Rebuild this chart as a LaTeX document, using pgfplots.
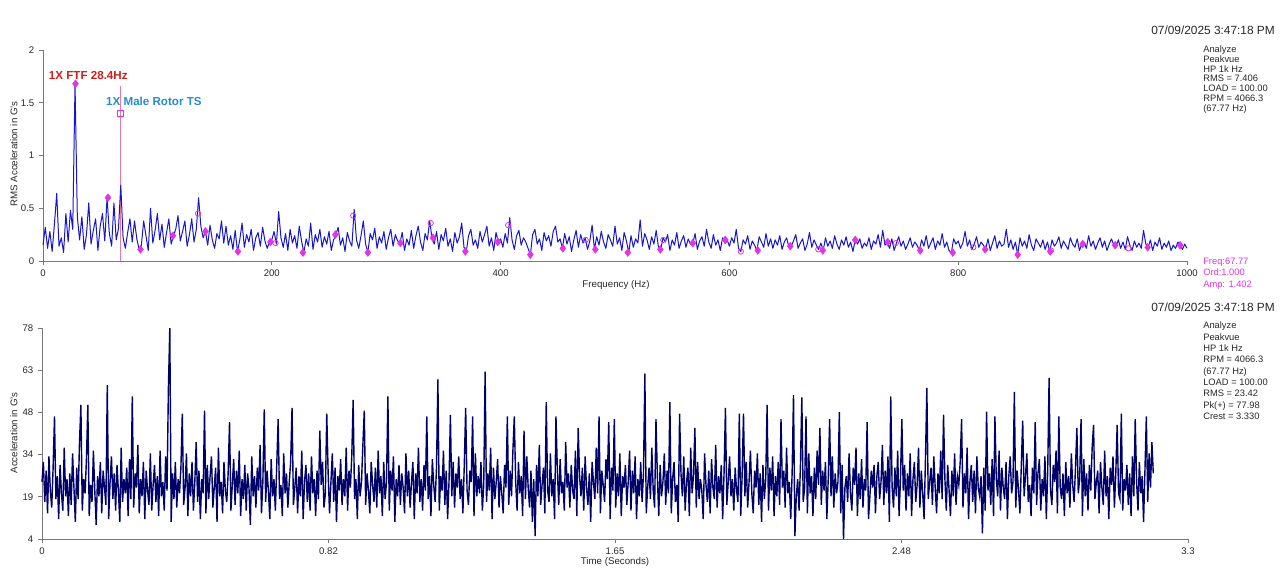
\documentclass[border=0pt]{standalone}
\usepackage{fontspec}
\setmainfont{Liberation Sans}
\usepackage{pgfplots}
\pgfplotsset{compat=1.18}
\definecolor{specblue}{RGB}{22,22,205}
\definecolor{wavenavy}{RGB}{0,0,105}
\definecolor{mag}{RGB}{228,50,228}
\definecolor{cursorpink}{RGB}{240,120,160}
\definecolor{lblred}{RGB}{205,30,30}
\definecolor{lblblue}{RGB}{40,140,210}
\definecolor{axgray}{RGB}{120,120,120}
\definecolor{txt}{RGB}{40,40,40}
\begin{document}
\begin{tikzpicture}
\path[use as bounding box] (0pt,0pt) rectangle (960pt,431.25pt);
\pgfplotsset{myax/.style={scale only axis, axis x line=bottom, axis y line=left,
  axis line style={-, axgray, line width=0.6pt}, tick style={axgray, line width=0.6pt},
  tick align=outside, major tick length=3pt,
  ticklabel style={font=\fontsize{7.2}{8}\selectfont, text=txt},
  /pgf/number format/assume math mode=true, clip=false, anchor=south west}}
% ---------------- spectrum ----------------
\begin{axis}[myax, at={(32.25pt,235.5pt)}, width=858pt, height=158.25pt,
  xmin=0, xmax=1000, ymin=0, ymax=2,
  xtick={0,200,400,600,800,1000}, xticklabels={0,200,400,600,800,1000},
  ytick={0,0.5,1,1.5,2}, yticklabels={0,0.5,1,1.5,2}]
\addplot[cursorpink, line width=0.8pt] coordinates {(67.77,0) (67.77,1.66)};
\addplot[specblue, line width=0.75pt, line join=round] table[x expr=\coordindex*2, y index=0, header=false, row sep=\\] {
0.15\\0.32\\0.12\\0.28\\0.09\\0.35\\0.64\\0.14\\0.22\\0.08\\0.45\\0.18\\0.48\\0.3\\1.68\\0.42\\0.2\\0.42\\0.11\\0.25\\
0.55\\0.16\\0.29\\0.4\\0.1\\0.33\\0.45\\0.19\\0.6\\0.26\\0.14\\0.55\\0.2\\0.31\\0.72\\0.22\\0.12\\0.27\\0.4\\0.18\\
0.38\\0.21\\0.11\\0.15\\0.38\\0.24\\0.1\\0.5\\0.17\\0.29\\0.45\\0.2\\0.35\\0.13\\0.27\\0.4\\0.16\\0.24\\0.3\\0.43\\
0.19\\0.28\\0.38\\0.14\\0.25\\0.4\\0.18\\0.3\\0.6\\0.33\\0.22\\0.28\\0.15\\0.34\\0.2\\0.12\\0.26\\0.21\\0.38\\0.17\\
0.33\\0.15\\0.24\\0.11\\0.29\\0.09\\0.2\\0.36\\0.13\\0.25\\0.18\\0.3\\0.1\\0.22\\0.27\\0.14\\0.32\\0.19\\0.12\\0.18\\
0.2\\0.28\\0.16\\0.47\\0.22\\0.13\\0.26\\0.1\\0.3\\0.17\\0.24\\0.12\\0.33\\0.19\\0.08\\0.21\\0.14\\0.36\\0.11\\0.25\\
0.18\\0.3\\0.13\\0.23\\0.16\\0.28\\0.1\\0.2\\0.25\\0.32\\0.15\\0.22\\0.09\\0.27\\0.19\\0.14\\0.49\\0.2\\0.12\\0.24\\
0.38\\0.16\\0.08\\0.26\\0.2\\0.31\\0.12\\0.23\\0.17\\0.28\\0.11\\0.22\\0.3\\0.14\\0.25\\0.19\\0.17\\0.27\\0.1\\0.21\\
0.15\\0.29\\0.12\\0.24\\0.33\\0.18\\0.1\\0.26\\0.2\\0.38\\0.22\\0.16\\0.28\\0.11\\0.25\\0.19\\0.31\\0.14\\0.21\\0.09\\
0.27\\0.17\\0.23\\0.36\\0.13\\0.09\\0.24\\0.3\\0.15\\0.2\\0.12\\0.28\\0.18\\0.25\\0.33\\0.14\\0.22\\0.1\\0.27\\0.18\\
0.21\\0.13\\0.26\\0.17\\0.41\\0.2\\0.11\\0.24\\0.29\\0.15\\0.22\\0.18\\0.12\\0.06\\0.25\\0.3\\0.16\\0.21\\0.1\\0.27\\
0.19\\0.24\\0.14\\0.28\\0.33\\0.18\\0.21\\0.12\\0.26\\0.16\\0.23\\0.09\\0.2\\0.29\\0.13\\0.25\\0.17\\0.22\\0.11\\0.19\\
0.34\\0.11\\0.23\\0.15\\0.28\\0.18\\0.12\\0.25\\0.2\\0.14\\0.33\\0.16\\0.22\\0.1\\0.27\\0.19\\0.08\\0.24\\0.13\\0.21\\
0.17\\0.39\\0.14\\0.26\\0.2\\0.11\\0.23\\0.16\\0.29\\0.13\\0.11\\0.22\\0.18\\0.25\\0.1\\0.2\\0.15\\0.27\\0.12\\0.19\\
0.24\\0.13\\0.21\\0.16\\0.17\\0.26\\0.11\\0.19\\0.23\\0.14\\0.3\\0.18\\0.12\\0.25\\0.15\\0.2\\0.1\\0.22\\0.17\\0.2\\
0.14\\0.22\\0.17\\0.3\\0.12\\0.09\\0.2\\0.16\\0.24\\0.11\\0.19\\0.15\\0.1\\0.23\\0.18\\0.13\\0.26\\0.14\\0.21\\0.12\\
0.2\\0.15\\0.24\\0.11\\0.18\\0.22\\0.13\\0.14\\0.19\\0.25\\0.12\\0.17\\0.21\\0.1\\0.16\\0.27\\0.13\\0.2\\0.15\\0.11\\
0.17\\0.1\\0.22\\0.14\\0.19\\0.12\\0.24\\0.16\\0.11\\0.2\\0.15\\0.23\\0.13\\0.18\\0.09\\0.2\\0.16\\0.21\\0.12\\0.17\\
0.14\\0.22\\0.11\\0.19\\0.16\\0.25\\0.13\\0.29\\0.15\\0.18\\0.12\\0.21\\0.1\\0.17\\0.23\\0.14\\0.19\\0.11\\0.16\\0.22\\
0.13\\0.18\\0.15\\0.1\\0.2\\0.14\\0.24\\0.12\\0.17\\0.22\\0.11\\0.19\\0.15\\0.26\\0.13\\0.18\\0.1\\0.08\\0.21\\0.16\\
0.19\\0.12\\0.17\\0.28\\0.14\\0.2\\0.11\\0.16\\0.23\\0.13\\0.18\\0.15\\0.11\\0.21\\0.1\\0.17\\0.24\\0.12\\0.19\\0.14\\
0.16\\0.3\\0.13\\0.2\\0.11\\0.18\\0.06\\0.22\\0.14\\0.19\\0.12\\0.25\\0.15\\0.1\\0.21\\0.17\\0.13\\0.2\\0.11\\0.18\\
0.09\\0.2\\0.14\\0.17\\0.23\\0.12\\0.19\\0.15\\0.11\\0.22\\0.16\\0.13\\0.21\\0.1\\0.16\\0.18\\0.12\\0.24\\0.14\\0.19\\
0.11\\0.17\\0.22\\0.13\\0.19\\0.1\\0.16\\0.21\\0.15\\0.14\\0.2\\0.12\\0.18\\0.11\\0.23\\0.15\\0.1\\0.19\\0.13\\0.17\\
0.12\\0.29\\0.16\\0.13\\0.2\\0.1\\0.18\\0.14\\0.22\\0.11\\0.17\\0.13\\0.19\\0.1\\0.15\\0.12\\0.18\\0.15\\0.11\\0.16\\
0.12\\
};
\addplot[only marks, mark=diamond*, mark size=2.9pt, mark options={fill=mag, draw=mag}] coordinates {
(28.4,1.68) (56.8,0.6) (85.2,0.11) (113.6,0.24) (142,0.28) (170.4,0.09) (198.8,0.18)
(227.2,0.08) (255.6,0.25) (284,0.08) (312.4,0.17) (340.8,0.22) (369.2,0.09) (397.6,0.18)
(426,0.06) (454.4,0.12) (482.8,0.11) (511.2,0.08) (539.6,0.11) (568,0.17) (596.4,0.2)
(624.8,0.1) (653.2,0.14) (681.6,0.1) (710,0.2) (738.4,0.18) (766.8,0.1) (795.2,0.08)
(823.6,0.11) (852,0.06) (880.4,0.09) (908.8,0.16) (937.2,0.15) (965.6,0.13) (994,0.15)};
\addplot[only marks, mark=o, mark size=2pt, mark options={draw=mag, line width=0.6pt}] coordinates {
(135.5,0.45) (203.3,0.17) (271.1,0.43) (338.9,0.36) (406.6,0.34) (474.4,0.2) (542.2,0.2)
(610,0.09) (677.7,0.11) (745.5,0.17) (813.2,0.13) (881,0.1) (948.8,0.12)};
\addplot[only marks, mark=square, mark size=2.3pt, mark options={draw=mag, line width=0.7pt}] coordinates {(67.77,1.402)};
\node[anchor=west, inner sep=0pt, text=lblred, font=\fontsize{8.7}{10}\selectfont\bfseries] at (axis cs:5,1.76) {1X FTF 28.4Hz};
\node[anchor=west, inner sep=0pt, text=lblblue, font=\fontsize{8.7}{10}\selectfont\bfseries] at (axis cs:55,1.51) {1X Male Rotor TS};
\end{axis}
% ---------------- waveform ----------------
\begin{axis}[myax, at={(31.5pt,27pt)}, width=859.5pt, height=158.25pt,
  xmin=0, xmax=3.3, ymin=4, ymax=78,
  xtick={0,0.825,1.65,2.475,3.3}, xticklabels={0,0.82,1.65,2.48,3.3},
  ytick={4,18.8,33.6,48.4,63.2,78}, yticklabels={4,19,34,48,63,78}]
\addplot[wavenavy, line width=1.05pt] table[x expr=\coordindex*0.004, y index=0, header=false, row sep=\\] {
24\\31\\17\\28\\13\\33\\21\\15\\29\\47\\18\\26\\11\\30\\20\\14\\36\\19\\25\\12\\
27\\16\\34\\22\\10\\29\\18\\38\\51\\14\\25\\20\\32\\51\\12\\23\\17\\35\\21\\9\\
26\\19\\31\\13\\28\\22\\16\\58\\11\\24\\33\\18\\27\\14\\30\\21\\10\\36\\17\\25\\
20\\29\\12\\32\\18\\54\\15\\27\\22\\37\\13\\25\\19\\31\\11\\28\\21\\16\\34\\14\\
23\\30\\17\\26\\12\\35\\19\\24\\14\\33\\21\\57\\78\\10\\27\\18\\31\\15\\25\\20\\
29\\48\\16\\22\\34\\12\\27\\19\\31\\14\\24\\38\\17\\28\\11\\25\\20\\49\\13\\30\\
18\\26\\33\\15\\22\\29\\10\\36\\19\\24\\13\\31\\21\\17\\27\\45\\14\\23\\32\\16\\
28\\20\\35\\12\\25\\18\\30\\14\\27\\22\\9\\33\\19\\26\\15\\29\\21\\37\\13\\24\\
49.5\\17\\28\\21\\11\\32\\19\\25\\14\\30\\46\\18\\23\\12\\34\\20\\27\\15\\24\\31\\
50\\16\\22\\29\\13\\26\\19\\35\\11\\24\\30\\17\\27\\14\\33\\20\\25\\12\\28\\18\\
42\\23\\31\\15\\20\\48\\27\\13\\24\\34\\17\\29\\10\\26\\21\\32\\16\\25\\19\\36\\
14\\28\\22\\33\\52.8\\18\\25\\11\\30\\19\\24\\37\\49\\16\\27\\21\\13\\31\\23\\17\\
29\\15\\35\\20\\26\\12\\31\\18\\24\\54\\14\\28\\21\\33\\10\\25\\19\\30\\16\\27\\
22\\13\\34\\19\\28\\15\\24\\31\\11\\27\\20\\36\\17\\25\\14\\30\\21\\47\\18\\26\\
12\\32\\23\\17\\29\\60\\14\\26\\21\\35\\16\\28\\11\\24\\47.5\\19\\31\\15\\27\\22\\
33\\18\\25\\13\\30\\50\\21\\16\\28\\24\\47\\12\\34\\19\\26\\20\\31\\14\\23\\62.7\\
17\\27\\21\\36\\11\\29\\18\\24\\32\\15\\26\\20\\13\\30\\22\\47\\16\\28\\19\\35\\
47\\24\\14\\31\\20\\26\\12\\42\\18\\33\\22\\15\\28\\10\\25\\5\\30\\19\\37\\16\\
23\\29\\13\\52\\21\\17\\34\\19\\25\\11\\47\\28\\16\\32\\20\\24\\14\\38\\22\\27\\
15\\30\\21\\18\\35\\12\\43\\26\\19\\29\\14\\33\\22\\16\\27\\10\\31\\24\\18\\36\\
20\\47\\13\\28\\23\\17\\32\\25\\45\\11\\29\\21\\46\\15\\27\\19\\34\\12\\26\\22\\
30\\16\\24\\35\\14\\28\\20\\33\\11\\25\\19\\31\\17\\27\\62\\13\\22\\29\\18\\36\\
21\\15\\46\\26\\12\\30\\19\\24\\34\\16\\28\\20\\52\\13\\25\\31\\17\\23\\10\\48\\
27\\19\\33\\14\\24\\29\\12\\36\\20\\26\\43\\15\\31\\18\\25\\21\\11\\34\\23\\17\\
28\\13\\32\\22\\18\\37\\15\\26\\20\\30\\11\\27\\50\\16\\24\\33\\19\\25\\14\\29\\
21\\17\\48\\12\\26\\48\\19\\31\\15\\24\\35\\20\\13\\28\\22\\34\\16\\27\\10\\30\\
18\\25\\51\\14\\29\\21\\33\\12\\26\\19\\31\\16\\46\\22\\28\\15\\36\\20\\24\\11\\
27\\54.5\\5\\19\\25\\14\\30\\53.7\\17\\22\\47\\13\\34\\20\\26\\12\\29\\18\\35\\23\\
43\\16\\28\\21\\31\\11\\25\\46\\19\\33\\15\\27\\20\\24\\48.5\\13\\30\\4\\22\\26\\
17\\34\\20\\14\\29\\23\\36\\12\\27\\18\\32\\15\\25\\21\\45\\11\\19\\28\\22\\30\\
13\\26\\31\\18\\24\\37\\16\\28\\20\\33\\10\\54\\22\\15\\29\\19\\35\\12\\25\\46\\
21\\30\\14\\27\\19\\34\\12\\25\\31\\17\\23\\36\\15\\28\\20\\11\\32\\57\\18\\24\\
29\\16\\33\\22\\13\\27\\20\\35\\18\\47.6\\25\\14\\30\\21\\12\\28\\19\\34\\16\\26\\
23\\31\\46\\15\\27\\20\\36\\11\\24\\30\\17\\28\\13\\33\\22\\19\\26\\6\\29\\14\\
48.7\\21\\27\\16\\32\\12\\47\\25\\19\\35\\14\\29\\22\\18\\31\\11\\26\\33\\20\\24\\
55.6\\15\\28\\21\\13\\30\\45.5\\19\\26\\34\\17\\23\\12\\29\\20\\45\\16\\27\\32\\14\\
25\\19\\33\\11\\28\\60.5\\21\\16\\30\\24\\35\\13\\47\\22\\18\\27\\12\\31\\20\\26\\
15\\34\\23\\17\\29\\43\\20\\25\\46\\12\\32\\19\\27\\14\\30\\21\\36\\44\\18\\24\\
28\\13\\31\\22\\16\\35\\19\\26\\11\\29\\23\\33\\15\\27\\44\\20\\18\\48\\14\\25\\
21\\30\\16\\27\\12\\33\\19\\46\\24\\14\\31\\20\\26\\10\\28\\47\\17\\34\\22\\38\\
27\\
};
\end{axis}
% ---------------- texts ----------------
\node[anchor=east, inner sep=0pt, font=\fontsize{8.9}{10}\selectfont, text=txt] at (956.25pt,408.75pt) {07/09/2025 3:47:18 PM};
\node[anchor=north west, align=left, inner sep=0pt, font=\fontsize{7}{7.3}\selectfont, text=txt] at (902.25pt,397pt) {Analyze\\Peakvue\\HP 1k Hz\\RMS = 7.406\\LOAD = 100.00\\RPM = 4066.3\\(67.77 Hz)};
\node[anchor=north west, align=left, inner sep=0pt, font=\fontsize{7}{8.8}\selectfont, text=mag] at (902.25pt,238.2pt) {Freq:67.77\\Ord:1.000\\Amp: 1.402};
\node[anchor=east, inner sep=0pt, font=\fontsize{8.9}{10}\selectfont, text=txt] at (956.25pt,200.5pt) {07/09/2025 3:47:18 PM};
\node[anchor=north west, align=left, inner sep=0pt, font=\fontsize{7}{8.5}\selectfont, text=txt] at (902.25pt,190pt) {Analyze\\Peakvue\\HP 1k Hz\\RPM = 4066.3\\(67.77 Hz)\\LOAD = 100.00\\RMS = 23.42\\Pk(+) = 77.98\\Crest = 3.330};
\node[rotate=90, inner sep=0pt, font=\fontsize{7.3}{8}\selectfont, text=txt] at (10.5pt,315.75pt) {RMS Acceleration in G's};
\node[inner sep=0pt, font=\fontsize{7.3}{8}\selectfont, text=txt] at (462pt,217.5pt) {Frequency (Hz)};
\node[rotate=90, inner sep=0pt, font=\fontsize{7.3}{8}\selectfont, text=txt] at (10.5pt,106.5pt) {Acceleration in G's};
\node[inner sep=0pt, font=\fontsize{7.3}{8}\selectfont, text=txt] at (461.25pt,9.75pt) {Time (Seconds)};
\end{tikzpicture}
\end{document}
